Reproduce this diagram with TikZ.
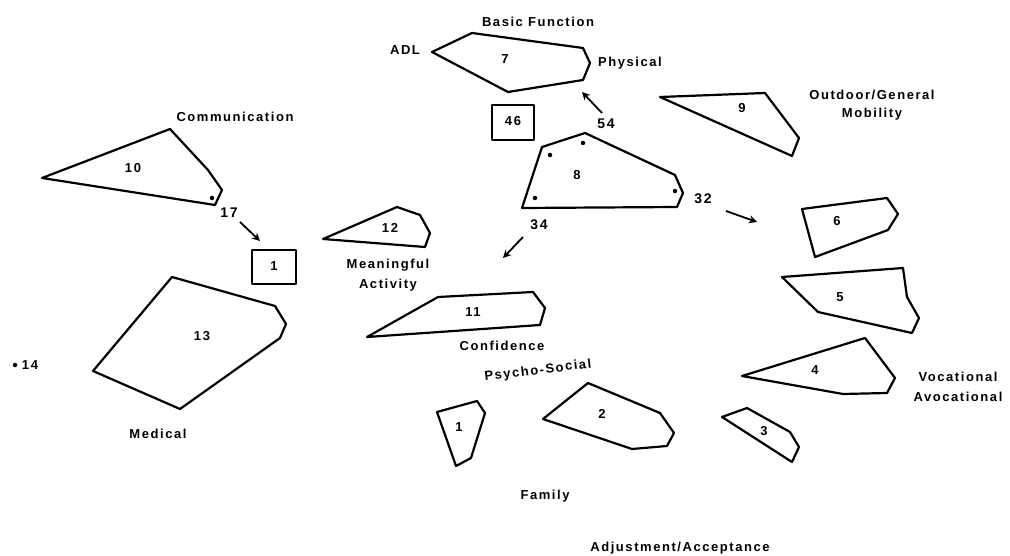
\documentclass[tikz,border=0pt]{standalone}
\usepackage{fontspec}
\setmainfont{Liberation Sans}
\newfontfamily\labfont[LetterSpace=12]{Liberation Sans}
\usetikzlibrary{arrows.meta}
\begin{document}
\begin{tikzpicture}[x=1pt,y=-1pt,
  poly/.style={draw=black,line width=2.2pt,line join=round},
  lbl/.style={font=\labfont\bfseries\fontsize{13}{15}\selectfont,inner sep=0pt},
  num/.style={font=\labfont\bfseries\fontsize{13}{15}\selectfont,inner sep=0pt},
  anum/.style={font=\labfont\bfseries\fontsize{14}{16}\selectfont,inner sep=0pt},
  arr/.style={-{Stealth[length=8pt,width=8pt]},line width=1.8pt},
  pt/.style={circle,fill=black,inner sep=0pt,minimum size=4.5pt}]
\useasboundingbox (0,0) rectangle (1010,556);
\fill[white] (0,0) rectangle (1010,556);

% polygon 7
\draw[poly] (432,52) -- (472,33) -- (583,48) -- (590,63) -- (583,80) -- (508,92) -- cycle;
\node[num] (n7) at (505,59) {7};
\node[lbl] (basic) at (538,22) {Basic Function};
\node[lbl] (adl) at (405,50) {ADL};
\node[lbl] (phys) at (630,63) {Physical};

% box 46
\draw[poly] (492,105) rectangle (534,140);
\node[num] (n46) at (513,121) {46};

% polygon 8
\draw[poly] (522,208) -- (542,147) -- (585,133) -- (675,175) -- (683,193) -- (677,207) -- cycle;
\node[num] (n8) at (577,175) {8};
\node[pt] (p8a) at (550,155) {};
\node[pt] (p8b) at (583,143) {};
\node[pt] (p8c) at (535,198) {};
\node[pt] (p8d) at (675,191) {};
\node[anum] (l54) at (606,124) {54};
\node[anum] (l32) at (703,199) {32};
\node[anum] (l34) at (539,225) {34};
\coordinate (a54s) at (602,113);
\coordinate (a54e) at (582,92);
\draw[arr] (a54s) -- (a54e);

% polygon 9
\draw[poly] (660,97) -- (765,93) -- (799,138) -- (792,156) -- cycle;
\node[num] (n9) at (742,108) {9};
\node[lbl] (outd) at (872,95) {Outdoor/General};
\node[lbl] (mob) at (872,114) {Mobility};

% arrow 32
\coordinate (a32s) at (726,211);
\coordinate (a32e) at (757,222);
\draw[arr] (a32s) -- (a32e);

% polygon 6
\draw[poly] (802,209) -- (887,198) -- (898,214) -- (888,230) -- (815,257) -- cycle;
\node[num] (n6) at (837,221) {6};

% polygon 5
\draw[poly] (782,277) -- (903,268) -- (907,297) -- (919,318) -- (912,333) -- (818,312) -- cycle;
\node[num] (n5) at (840,297) {5};

% polygon 4
\draw[poly] (742,376) -- (865,338) -- (895,378) -- (887,393) -- (843,394) -- cycle;
\node[num] (n4) at (815,370) {4};
\node[lbl] (voc) at (958,377) {Vocational};
\node[lbl] (avoc) at (958,397) {Avocational};

% polygon 3
\draw[poly] (722,417) -- (747,408) -- (790,432) -- (799,447) -- (792,462) -- cycle;
\node[num] (n3) at (764,431) {3};

% polygon 2
\draw[poly] (543,419) -- (588,383) -- (660,413) -- (674,433) -- (667,446) -- (632,449) -- cycle;
\node[num] (n2) at (602,414) {2};

% polygon 1
\draw[poly] (437,412) -- (477,401) -- (485,413) -- (471,458) -- (456,466) -- cycle;
\node[num] (n1b) at (459,427) {1};

\node[lbl,rotate=7] (psy) at (538,371) {Psycho-Social};
\node[lbl] (fam) at (545,496) {Family};
\node[lbl] (adj) at (680,548) {Adjustment/Acceptance};

% polygon 11
\draw[poly] (367,337) -- (438,297) -- (533,292) -- (545,308) -- (540,325) -- cycle;
\node[num] (n11) at (473,312) {11};
\node[lbl] (conf) at (502,346) {Confidence};

% arrow 34
\coordinate (a34s) at (523,237);
\coordinate (a34e) at (503,258);
\draw[arr] (a34s) -- (a34e);

% polygon 12
\draw[poly] (323,239) -- (397,207) -- (420,215) -- (430,233) -- (425,247) -- cycle;
\node[num] (n12) at (390,228) {12};
\node[lbl] (mean) at (388,265) {Meaningful};
\node[lbl] (act) at (388,285) {Activity};

% polygon 10
\draw[poly] (42,178) -- (170,129) -- (208,170) -- (222,190) -- (215,205) -- cycle;
\node[num] (n10) at (133,168) {10};
\node[pt] (p10) at (212,198) {};
\node[lbl] (comm) at (235,117) {Communication};
\node[anum] (l17) at (229,213) {17};
\coordinate (a17s) at (240,222);
\coordinate (a17e) at (260,241);
\draw[arr] (a17s) -- (a17e);

% box 1
\draw[poly] (252,250) rectangle (296,284);
\node[num] (n1) at (274,266) {1};

% polygon 13
\draw[poly] (172,277) -- (275,306) -- (286,324) -- (280,338) -- (180,409) -- (93,371) -- cycle;
\node[num] (n13) at (202,336) {13};
\node[lbl] (med) at (158,434) {Medical};
\node[pt] (p14) at (15,365) {};
\node[num] (n14) at (30,365) {14};
\end{tikzpicture}
\end{document}
